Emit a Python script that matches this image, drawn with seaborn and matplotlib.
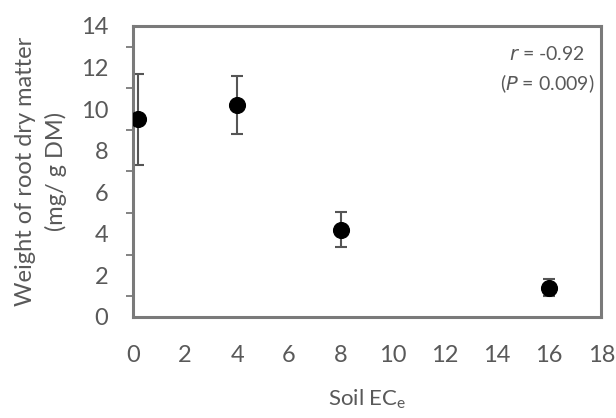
import matplotlib
matplotlib.use("Agg")
import matplotlib.pyplot as plt
import seaborn as sns
import pandas as pd
from matplotlib.ticker import MultipleLocator

# values
soil_ec = [0.2, 4, 8, 16]
root_dm = [9.5, 10.2, 4.2, 1.4]
root_err = [2.2, 1.4, 0.85, 0.4]
x_ticks = [0, 2, 4, 6, 8, 10, 12, 14, 16, 18]
y_ticks = [0, 2, 4, 6, 8, 10, 12, 14]

df = pd.DataFrame({'soil_ec': soil_ec, 'root_dm': root_dm, 'err': root_err})

sns.set_style('white')
plt.rcParams['font.family'] = ['Lato', 'DejaVu Sans']

grey = '#7a7a7a'
text_grey = '#595959'

fig = plt.figure(figsize=(6.16, 4.18), dpi=100)
ax = fig.add_axes([0.216, 0.242, 0.76, 0.696])

ax.errorbar(df['soil_ec'], df['root_dm'], yerr=df['err'], fmt='none',
            ecolor='#555555', elinewidth=1.5, capsize=4, capthick=1.5, zorder=2)
sns.scatterplot(data=df, x='soil_ec', y='root_dm', s=130, color='black',
                edgecolor='black', ax=ax, zorder=3)

ax.set_xlim(0, 18)
ax.set_ylim(0, 14)
ax.set_xticks(x_ticks)
ax.set_yticks(y_ticks)
ax.yaxis.set_minor_locator(MultipleLocator(1))

for sp in ax.spines.values():
    sp.set_color(grey)
    sp.set_linewidth(2.2)

ax.tick_params(axis='both', which='both', direction='out', color=grey,
               width=1.3, labelcolor=text_grey, labelsize=17)
ax.tick_params(axis='x', which='major', length=5, pad=15)
ax.tick_params(axis='y', which='major', length=5, pad=13)
ax.tick_params(axis='y', which='minor', length=5, left=True)

ax.set_xlabel('Soil EC$_\\mathregular{e}$', fontsize=16, color=text_grey, labelpad=16)
ax.set_ylabel('Weight of root dry matter\n(mg/ g DM)', fontsize=17,
              color=text_grey, labelpad=10, linespacing=1.45)

ax.text(0.885, 0.905, '$\\mathit{r}$ = -0.92', transform=ax.transAxes,
        ha='center', va='center', fontsize=14, color=text_grey)
ax.text(0.885, 0.80, '($\\mathit{P}$ = 0.009)', transform=ax.transAxes,
        ha='center', va='center', fontsize=14, color=text_grey)

fig.savefig('out.png', dpi=100)
